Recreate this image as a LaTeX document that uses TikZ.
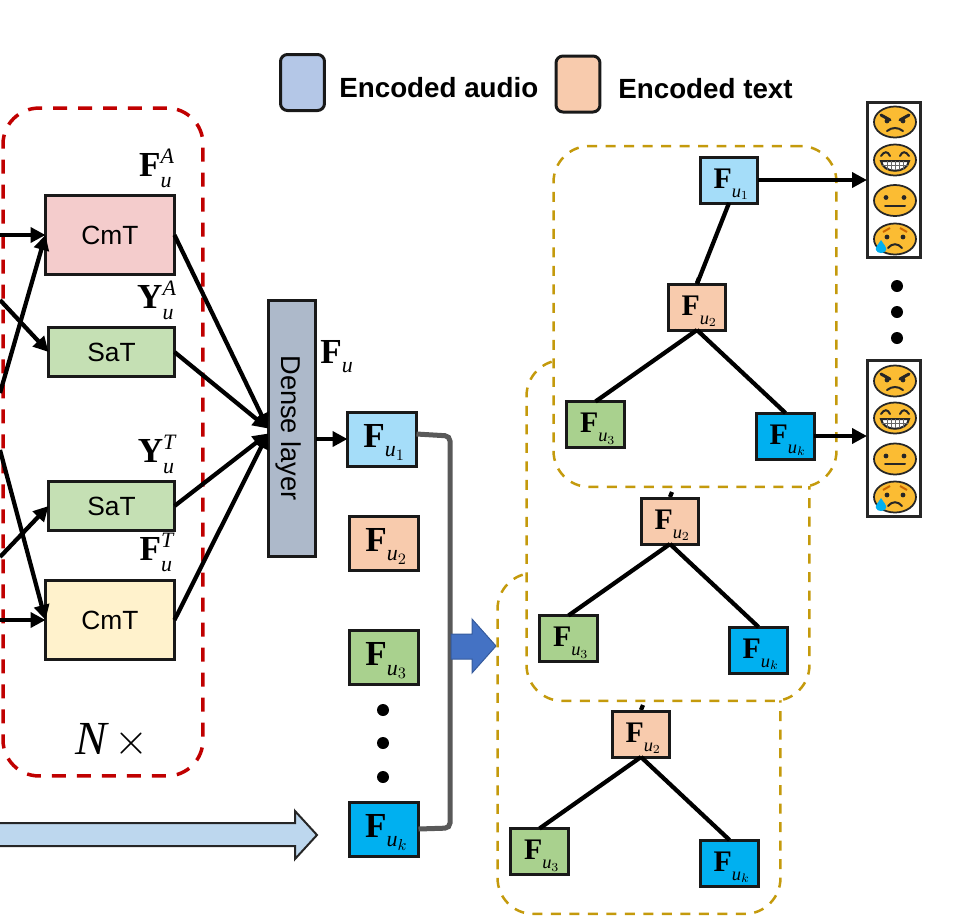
\documentclass[tikz,border=0pt]{standalone}
\usepackage{fontspec}
\setmainfont{Liberation Sans}
\setmathrm{Liberation Serif}
\setboldmathrm{Liberation Serif}[BoldFont=Liberation Serif Bold]
\usetikzlibrary{arrows.meta}
\DeclareMathSizes{20}{20}{12.5}{9}
\DeclareMathSizes{17}{17}{10.5}{7.5}
\DeclareMathSizes{27}{27}{18}{13}
\definecolor{redline}{HTML}{C00000}
\definecolor{goldline}{HTML}{C49A0C}
\definecolor{pinkfill}{HTML}{F4CCCC}
\definecolor{greenfill}{HTML}{C5E0B4}
\definecolor{creamfill}{HTML}{FFF2CC}
\definecolor{densefill}{HTML}{ADB9CA}
\definecolor{skyfill}{HTML}{A5DDF9}
\definecolor{peachfill}{HTML}{F8CBAD}
\definecolor{mossfill}{HTML}{A9D18E}
\definecolor{cyanfill}{HTML}{00B0F0}
\definecolor{facefill}{HTML}{FBBC33}
\definecolor{audiofill}{HTML}{B4C7E7}
\definecolor{shaftfill}{HTML}{BDD7EE}
\definecolor{bluearrow}{HTML}{4472C4}
\tikzset{>={Triangle[length=3mm,width=3mm]}}
\tikzset{
    box/.style={draw=black!90, line width=0.06cm, outer sep=0pt, inner sep=0pt},
    block/.style={box, font=\fontsize{15}{15}\selectfont},
    feat/.style={box, minimum width=1.38cm, minimum height=1.08cm, font=\fontsize{20}{20}\selectfont},
    smallfeat/.style={box, minimum width=1.16cm, minimum height=0.92cm, font=\fontsize{17}{17}\selectfont},
    link/.style={line width=0.085cm},
    flow/.style={link, ->},
    panel/.style={draw=goldline, fill=white, dashed, dash pattern=on 0.2cm off 0.17cm, line width=0.05cm, rounded corners=0.72cm,
        minimum width=5.66cm, minimum height=6.82cm, outer sep=0pt},
    legend/.style={box, rounded corners=0.14cm, minimum width=0.88cm, minimum height=1.12cm},
    legendtext/.style={font=\fontsize{15.8}{15.8}\selectfont\bfseries, anchor=west, inner sep=0pt},
    mathlabel/.style={font=\fontsize{20}{20}\selectfont, inner sep=0pt},
    bigdot/.style={circle, fill=black, minimum size=0.24cm, inner sep=0pt},
    emojibox/.style={draw=black!85, fill=white, line width=0.06cm, minimum width=1.08cm, minimum height=3.12cm, outer sep=0pt},
    head/.style={draw=black!85, fill=facefill, line width=0.035cm},
    faceline/.style={draw=black!85, line width=0.04cm, line cap=round},
    angryface/.pic={
        \draw[head] (0,0) ellipse (21 and 15.5);
        \draw[faceline, line width=0.06cm] (-14,-7) -- (-5,-2);
        \draw[faceline, line width=0.06cm] (14,-7) -- (5,-2);
        \fill[black!85] (-8,-1) circle (2.4);
        \fill[black!85] (8,-1) circle (2.4);
        \draw[faceline] (-8,9) .. controls (-3,5) and (3,5) .. (8,9);
    },
    grinface/.pic={
        \draw[head] (0,0) ellipse (21 and 15.5);
        \draw[faceline] (-14,-4) .. controls (-11,-9) and (-7,-9) .. (-5,-4);
        \draw[faceline] (14,-4) .. controls (11,-9) and (7,-9) .. (5,-4);
        \draw[faceline, fill=white] (-14,1) -- (14,1) .. controls (12,14) and (-12,14) .. (-14,1) -- cycle;
        \foreach \gx in {-8,-4,0,4,8} \draw[black!60, line width=0.02cm] (\gx,1) -- (\gx,10);
        \draw[black!60, line width=0.02cm] (-13,5.5) -- (13,5.5);
    },
    neutralface/.pic={
        \draw[head] (0,0) ellipse (21 and 15.5);
        \fill[black!85] (-9,-3) circle (2.4);
        \fill[black!85] (9,-3) circle (2.4);
        \draw[faceline] (-10,5) -- (10,5);
    },
    sadface/.pic={
        \draw[head] (0,0) ellipse (21 and 15.5);
        \draw[draw=orange!80!black, line width=0.04cm] (-12,-7) -- (-5,-11);
        \draw[draw=orange!80!black, line width=0.04cm] (12,-7) -- (5,-11);
        \fill[black!85] (-8,-2) circle (2.4);
        \fill[black!85] (8,-2) circle (2.4);
        \draw[faceline] (-7,9) .. controls (-3,4) and (3,4) .. (7,9);
        \fill[cyanfill] (-14,1) .. controls (-17,6) and (-20,8) .. (-19,11) .. controls (-18,15) and (-10,15) .. (-9,11) .. controls (-8,8) and (-11,6) .. (-14,1) -- cycle;
    },
}
\newcommand{\featname}[1]{\hspace{3pt}\raisebox{-4.6pt}[0pt][0pt]{$\mathbf{F}_{\raisebox{-2.5pt}{$\scriptstyle\mathit{u}_{#1}$}}$}}
\newcommand{\streamname}[2]{$\mathbf{#1}_{\raisebox{-1pt}{$\scriptstyle\mathit{u}$}}^{\mathit{#2}}$}

\begin{document}
\begin{tikzpicture}[x=0.02cm,y=-0.02cm]
	\useasboundingbox (0,0) rectangle (975,921);
	% legend
	\node[legend, fill=audiofill] (legaudio) at (302.5,82.5) {};
	\node[legendtext] (legaudiotext) at (339,88) {Encoded audio};
	\node[legend, fill=peachfill] (legtext) at (578,84) {};
	\node[legendtext] (legtexttext) at (618,89) {Encoded text};
	% encoder stack
	\node[draw=redline, dashed, dash pattern=on 0.28cm off 0.22cm, line width=0.07cm, rounded corners=0.72cm,
		minimum width=4cm, minimum height=13.36cm] (stack) at (103,442) {};
	\node[block, fill=pinkfill, minimum width=2.58cm, minimum height=1.57cm] (cmta) at (110,235) {CmT};
	\node[block, fill=greenfill, minimum width=2.52cm, minimum height=0.97cm] (sata) at (111.5,352) {SaT};
	\node[block, fill=greenfill, minimum width=2.52cm, minimum height=0.97cm] (satt) at (111.5,506) {SaT};
	\node[block, fill=creamfill, minimum width=2.58cm, minimum height=1.57cm] (cmtt) at (110,620) {CmT};
	\node[block, fill=densefill, minimum width=0.96cm, minimum height=5.14cm] (dense) at (292,428.5) {};
	\node[font=\fontsize{15.5}{15.5}\selectfont, rotate=-90] (denselabel) at (289,428) {Dense layer};
	\node[mathlabel] (labfa) at (157,168) {\streamname{F}{A}};
	\node[mathlabel] (labya) at (157,300) {\streamname{Y}{A}};
	\node[mathlabel] (labyt) at (157,454) {\streamname{Y}{T}};
	\node[mathlabel] (labft) at (157,552) {\streamname{F}{T}};
	\node[mathlabel] (labfu) at (337,357) {$\mathbf{F}_{\raisebox{-2pt}{$\scriptstyle\mathit{u}$}}$};
	\node[font=\fontsize{27}{27}\selectfont, inner sep=0pt] (repeat) at (112,741) {$\mathit{N}\,{\times}$};
	% free ends on the left edge
	\coordinate (ina) at (0,235);
	\coordinate (inb) at (0,300);
	\coordinate (inc) at (0,393);
	\coordinate (ind) at (0,450);
	\coordinate (ine) at (0,557);
	\coordinate (inf) at (0,620);
	\draw[flow] (ina) -- (cmta.west);
	\draw[flow] (inb) -- (sata.west);
	\draw[flow] (inc) -- (cmta.west);
	\draw[flow] (ind) -- (cmtt.west);
	\draw[flow] (ine) -- (satt.west);
	\draw[flow] (inf) -- (cmtt.west);
	\draw[flow] (cmta.east) -- (dense.west);
	\draw[flow] (sata.east) -- (dense.west);
	\draw[flow] (satt.east) -- ([yshift=-0.1cm]dense.west);
	\draw[flow] (cmtt.east) -- ([yshift=-0.1cm]dense.west);
	% utterance features
	\node[feat, fill=skyfill] (feat1) at (382,439) {\featname{1}};
	\node[feat, fill=peachfill] (feat2) at (384,543) {\featname{2}};
	\node[feat, fill=mossfill] (feat3) at (384,657.5) {\featname{3}};
	\node[feat, fill=cyanfill] (featk) at (384,829) {\featname{k}};
	\foreach \y in {710,743,777} \node[bigdot] at (383,\y) {};
	\draw[draw=black!65, line width=0.1cm, rounded corners=0.1cm] ([yshift=0.1cm]feat1.east) -- (450,436) -- (450,828) -- (featk.east);
	\draw[flow] (dense.east |- feat1.west) -- (feat1.west);
	\draw[draw=bluearrow!80!black, fill=bluearrow, line width=0.02cm] (451,634) -- (472,634) -- (472,619) -- (496,646) -- (472,673) -- (472,659) -- (451,659) -- cycle;
	\draw[draw=black!85, fill=shaftfill, line width=0.04cm] (-5,823) -- (295,823) -- (295,811) -- (317,835) -- (295,859) -- (295,846) -- (-5,846) -- cycle;
	% graphs, the lowest one first
	\foreach \i/\dx/\dy in {3/-56/427, 2/-27/214, 1/0/0} {
		\begin{scope}[shift={(\dx,\dy)}]
			\coordinate (top\i) at (699,278);
			\node[panel] (panel\i) at (695,316.5) {};
			\draw[link] (top\i) -- (697,283);
			\node[smallfeat, fill=peachfill] (ub\i) at (697,307) {\featname{2}};
			\node[smallfeat, fill=mossfill] (uc\i) at (595.5,424.5) {\featname{3}};
			\node[smallfeat, fill=cyanfill] (uk\i) at (785.5,436) {\featname{k}};
			\draw[link] (ub\i.south) -- (uc\i.north);
			\draw[link] (ub\i.south) -- (uk\i.north);
		\end{scope}
	}
	\node[smallfeat, fill=skyfill] (ua1) at (729,180) {\featname{1}};
	\draw[link] (ua1.south) -- (ub1.north);
	% emotion outputs
	\node[emojibox] (emoa) at (894,180) {};
	\node[emojibox] (emob) at (894,438.5) {};
	\draw[flow] (ua1.east) -- (emoa.west);
	\draw[flow] (uk1.east) -- (emob.west |- uk1.east);
	\pic at (895,122) {angryface};
	\pic at (895,160) {grinface};
	\pic at (895,200.5) {neutralface};
	\pic at (895,239) {sadface};
	\pic at (895,381) {angryface};
	\pic at (895,418) {grinface};
	\pic at (895,459) {neutralface};
	\pic at (895,497) {sadface};
	\foreach \y in {286,312,338} \node[bigdot] at (897,\y) {};
\end{tikzpicture}
\end{document}
